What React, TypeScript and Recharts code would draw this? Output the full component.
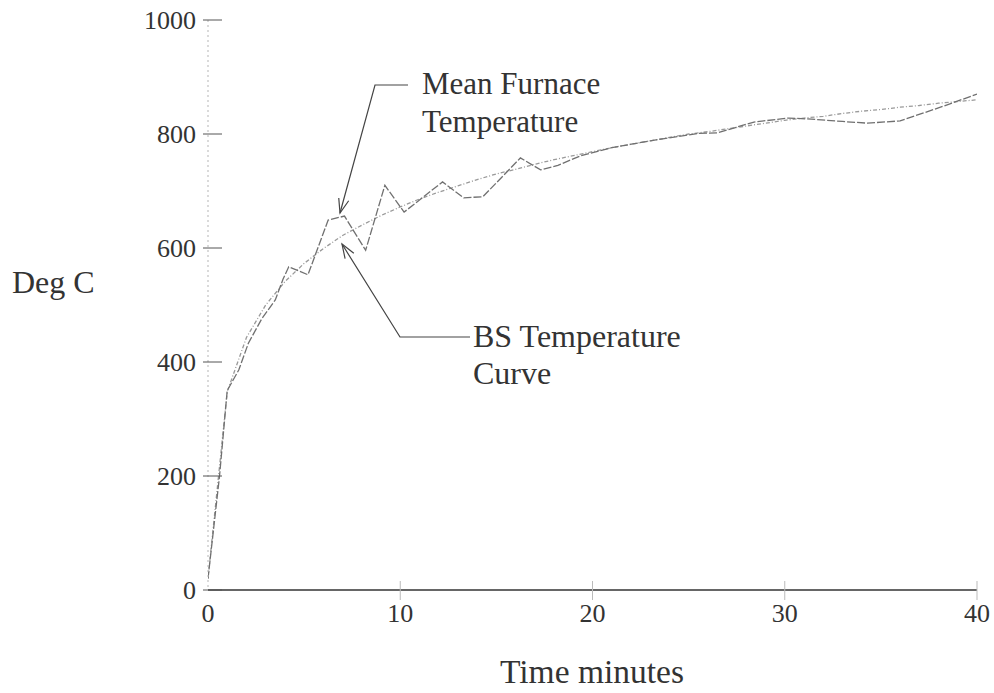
import { LineChart, Line, XAxis, YAxis } from 'recharts'

// Mean furnace temperature (minutes, deg C)
const furnaceTime = [0, 0.6, 1, 1.6, 2.1, 2.8, 3.5, 3.9, 4.2, 5.2, 6.25, 7.1, 8.2, 9.2, 10.2, 12.2, 13.3, 14.3, 16.25, 17.3, 18.2, 19.4, 21, 23, 25.5, 26.5, 28.4, 30.2, 31.4, 33, 34.3, 36, 38.1, 40]
const furnaceTemp = [20, 200, 350, 386, 433, 476, 509, 545, 567, 553, 649, 656, 596, 710, 663, 716, 688, 690, 758, 737, 745, 762, 776, 788, 801, 802, 821, 828, 826, 822, 819, 823, 847, 870]

// BS standard curve, one reading per minute
const bsTime = [0, 1, 2, 3, 4, 5, 6, 7, 8, 9, 10, 11, 12, 13, 14, 15, 16, 17, 18, 19, 20, 21, 22, 23, 24, 25, 26, 27, 28, 29, 30, 31, 32, 33, 34, 35, 36, 37, 38, 39, 40]
const bsTemp = [20, 348, 443, 500, 541, 573, 599, 622, 640, 657, 672, 686, 698, 709, 720, 730, 738, 747, 755, 762, 769, 776, 782, 788, 794, 800, 804, 809, 814, 819, 824, 828, 831, 836, 840, 843, 847, 850, 854, 857, 860]

const xTicks = [0, 10, 20, 30, 40]
const yTicks = [0, 200, 400, 600, 800, 1000]

const furnace = furnaceTime.map((t, i) => ({ t, v: furnaceTemp[i] }))
const bs = bsTime.map((t, i) => ({ t, v: bsTemp[i] }))

const FONT = '"Liberation Serif", "Times New Roman", serif'
const INK = '#333'

function XTick({ x, y, payload }: any) {
  return (
    <g>
      {payload.value > 0 && <line x1={x} x2={x} y1={y - 9} y2={y + 10} stroke="#bbb" strokeWidth={1} />}
      <text x={x} y={y + 32} textAnchor="middle" fontFamily={FONT} fontSize={26} fill={INK}>
        {payload.value}
      </text>
    </g>
  )
}

function YTick({ x, y, payload }: any) {
  return (
    <g>
      <line x1={x + 7} x2={x + 26} y1={y} y2={y} stroke="#555" strokeWidth={1} />
      <text x={x} y={y + 9} textAnchor="end" fontFamily={FONT} fontSize={26} fill={INK}>
        {payload.value}
      </text>
    </g>
  )
}

function Arrow({ points }: { points: [number, number][] }) {
  const [tx, ty] = points[points.length - 1]
  const [px, py] = points[points.length - 2]
  const len = Math.hypot(tx - px, ty - py)
  const ux = (tx - px) / len
  const uy = (ty - py) / len
  const wing = (a: number) => {
    const c = Math.cos(a)
    const s = Math.sin(a)
    return `${tx - 15 * (ux * c - uy * s)},${ty - 15 * (ux * s + uy * c)}`
  }
  return (
    <g fill="none" stroke="#444" strokeWidth={1.2}>
      <polyline points={points.map((p) => p.join(',')).join(' ')} />
      <polyline points={`${wing(0.35)} ${tx},${ty} ${wing(-0.35)}`} />
    </g>
  )
}

export default function App() {
  return (
    <div style={{ position: 'absolute', left: 0, top: 0, width: 994, height: 693, background: '#fff' }}>
      <LineChart width={994} height={693} margin={{ top: 20, right: 17, bottom: 43, left: 0 }}>
        <XAxis
          dataKey="t"
          type="number"
          domain={[0, 40]}
          ticks={xTicks}
          allowDataOverflow
          height={60}
          axisLine={{ stroke: '#333', strokeWidth: 1.5 }}
          tickLine={false}
          tickSize={0}
          tickMargin={0}
          tick={<XTick />}
        />
        <YAxis
          dataKey="v"
          type="number"
          domain={[0, 1000]}
          ticks={yTicks}
          width={208}
          axisLine={{ stroke: '#b5b5b5', strokeDasharray: '2 3' }}
          tickLine={false}
          tickSize={0}
          tickMargin={12}
          tick={<YTick />}
        />
        <Line
          data={bs}
          dataKey="v"
          type="linear"
          stroke="#9a9a9a"
          strokeWidth={1.3}
          strokeDasharray="4 2 1 2"
          dot={false}
          isAnimationActive={false}
        />
        <Line
          data={furnace}
          dataKey="v"
          type="linear"
          stroke="#707070"
          strokeWidth={1.3}
          strokeDasharray="8 2"
          dot={false}
          isAnimationActive={false}
        />
      </LineChart>
      <svg width={994} height={693} style={{ position: 'absolute', left: 0, top: 0, pointerEvents: 'none' }}>
        <g fontFamily={FONT} fill={INK}>
          <text x={12} y={293} fontSize={32}>Deg C</text>
          <text x={500} y={683} fontSize={33.5}>Time minutes</text>
          <text x={422} y={94} fontSize={31}>Mean Furnace</text>
          <text x={422} y={132} fontSize={31}>Temperature</text>
          <text x={473} y={347} fontSize={32}>BS Temperature</text>
          <text x={473} y={384} fontSize={32}>Curve</text>
        </g>
        <Arrow points={[[408, 85], [375, 85], [340, 213]]} />
        <Arrow points={[[470, 337], [400, 337], [342, 244]]} />
      </svg>
    </div>
  )
}
